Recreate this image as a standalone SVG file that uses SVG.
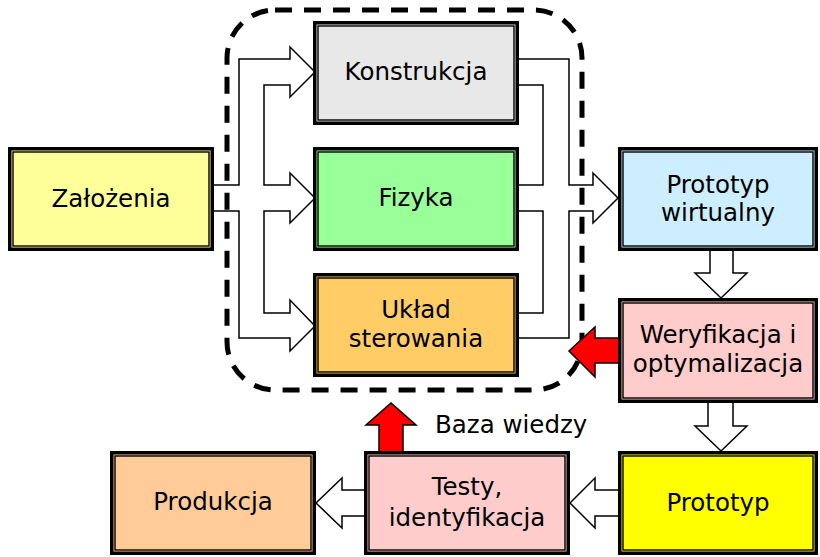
<svg xmlns="http://www.w3.org/2000/svg" width="820" height="557" viewBox="0 0 820 557">
<style>
.ob{stroke:#000;stroke-width:3.5}
.ib{fill:none;stroke:#000;stroke-width:1.4}
.t{font-family:"DejaVu Sans","Verdana",sans-serif;font-size:24.5px;fill:#000;text-anchor:middle}
.ha{fill:#fff;stroke:#000;stroke-width:1.5;stroke-linejoin:miter}
.hs{fill:none;stroke:#000;stroke-width:1.5;stroke-linejoin:miter}
.ra{fill:#f00;stroke:#000;stroke-width:1.5}
.dash{fill:none;stroke:#000;stroke-width:5;stroke-dasharray:17 12}
</style>
<rect width="820" height="557" fill="#fff"/>
<g id="connectors">
<path class="ha" d="M214,185 H239 V59 H290 V47 L315,72 L290,97 V85 H264 V185 H290 V173 L315,198 L290,223 V211 H264 V313 H290 V300 L315,326 L290,351 V338 H239 V211 H214"/>
<path fill="#fff" stroke="none" d="M519,59 H569 V185 H593 V173 L618,198 L593,223 V211 H569 V338 H519 V313 H543 V211 H519 V185 H543 V85 H519 Z"/>
<path class="hs" d="M519,59 H569 V185 H593 V173 L618,198 L593,223 V211 H569 V338 H519 M519,313 H543 V211 H519 M519,185 H543 V85 H519"/>
<path class="ha" d="M710,251 V273 H695 L721,298 L747,273 H733 V251"/>
<path class="ha" d="M708,403 V426 H695 L721,451 L747,426 H733 V403"/>
<path class="ha" d="M618,490 H595 V478 L570,503 L595,528 V516 H618"/>
<path class="ha" d="M364,490 H342 V478 L316,503 L342,528 V516 H364"/>
<rect id="knowledge-base" class="dash" x="227" y="10" width="355" height="380" rx="48" ry="48"/>
<path class="ra" d="M618,338 H595 V327 L569,351 L595,377 V363 H618"/>
<path class="ra" d="M379,451 V425 H366 L391,403 L416,425 H403 V451"/>
</g>
<g id="zalozenia">
<rect class="ob" x="9.75" y="148.75" width="202.5" height="100.5" fill="#ffff99"/>
<rect class="ib" x="13" y="152" width="196" height="94"/>
<text class="t" x="111" y="207">Założenia</text>
</g>
<g id="konstrukcja">
<rect class="ob" x="314.75" y="22.75" width="202.5" height="100.5" fill="#e8e8e8"/>
<rect class="ib" x="318" y="26" width="196" height="94"/>
<text class="t" x="416" y="80">Konstrukcja</text>
</g>
<g id="fizyka">
<rect class="ob" x="314.75" y="148.75" width="202.5" height="100.5" fill="#99ff99"/>
<rect class="ib" x="318" y="152" width="196" height="94"/>
<text class="t" x="416" y="206">Fizyka</text>
</g>
<g id="uklad-sterowania">
<rect class="ob" x="314.75" y="274.75" width="202.5" height="100.5" fill="#ffcc66"/>
<rect class="ib" x="318" y="278" width="196" height="94"/>
<text class="t" x="416" y="318">Układ</text>
<text class="t" x="416" y="347">sterowania</text>
</g>
<g id="prototyp-wirtualny">
<rect class="ob" x="619.75" y="148.75" width="196.5" height="100.5" fill="#cceeff"/>
<rect class="ib" x="623" y="152" width="190" height="94"/>
<text class="t" x="718" y="193">Prototyp</text>
<text class="t" x="718" y="221">wirtualny</text>
</g>
<g id="weryfikacja">
<rect class="ob" x="619.75" y="299.75" width="196.5" height="101.5" fill="#ffcccc"/>
<rect class="ib" x="623" y="303" width="190" height="95"/>
<text class="t" x="718" y="343">Weryfikacja i</text>
<text class="t" x="718" y="372">optymalizacja</text>
</g>
<g id="prototyp">
<rect class="ob" x="619.75" y="452.75" width="196.5" height="100.5" fill="#ffff00"/>
<rect class="ib" x="623" y="456" width="190" height="94"/>
<text class="t" x="718" y="511">Prototyp</text>
</g>
<g id="testy">
<rect class="ob" x="365.75" y="452.75" width="202.5" height="100.5" fill="#ffcccc"/>
<rect class="ib" x="369" y="456" width="196" height="94"/>
<text class="t" x="467" y="495">Testy,</text>
<text class="t" x="467" y="526">identyfikacja</text>
</g>
<g id="produkcja">
<rect class="ob" x="111.75" y="452.75" width="202.5" height="100.5" fill="#ffcc99"/>
<rect class="ib" x="115" y="456" width="196" height="94"/>
<text class="t" x="213" y="510">Produkcja</text>
</g>
<text class="t" x="435" y="433" style="text-anchor:start">Baza wiedzy</text>
</svg>
